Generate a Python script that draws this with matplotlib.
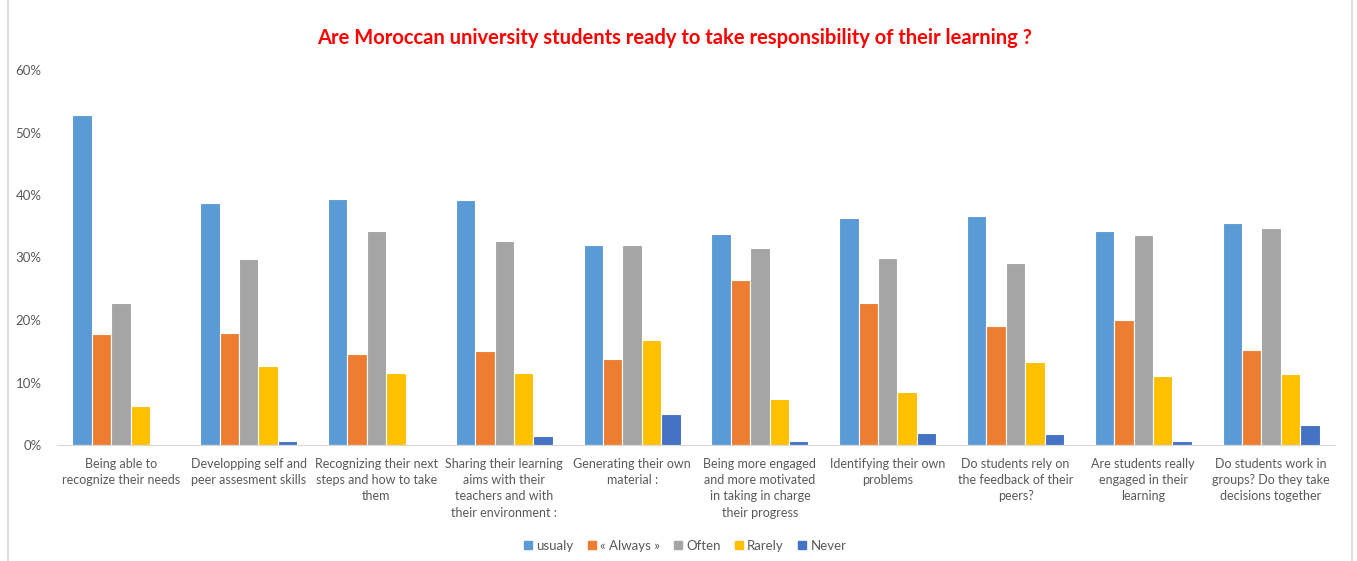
import numpy as np
import matplotlib.pyplot as plt
from matplotlib.lines import Line2D

plt.rcParams['font.family'] = ['Lato', 'DejaVu Sans']

categories = [
    "Being able to\nrecognize their needs",
    "Developping self and\npeer assesment skills",
    "Recognizing their next\nsteps and how to take\nthem",
    "Sharing their learning\naims with their\nteachers and with\ntheir environment :",
    "Generating their own\nmaterial :",
    "Being more engaged\nand more motivated\nin taking in charge\ntheir progress",
    "Identifying their own\nproblems",
    "Do students rely on\nthe feedback of their\npeers?",
    "Are students really\nengaged in their\nlearning",
    "Do students work in\ngroups? Do they take\ndecisions together",
]
series_names = ["usualy", "« Always »", "Often", "Rarely", "Never"]
usualy = [52.8, 38.8, 39.4, 39.2, 32.0, 33.8, 36.4, 36.6, 34.3, 35.5]
always = [17.8, 17.9, 14.5, 15.1, 13.8, 26.4, 22.8, 19.1, 20.0, 15.2]
often = [22.8, 29.8, 34.2, 32.6, 32.0, 31.6, 30.0, 29.2, 33.6, 34.7]
rarely = [6.3, 12.6, 11.6, 11.5, 16.8, 7.3, 8.5, 13.3, 11.1, 11.3]
never = [0.0, 0.7, 0.0, 1.4, 5.0, 0.7, 2.0, 1.7, 0.7, 3.2]
colors = ["#5B9BD5", "#ED7D31", "#A5A5A5", "#FFC000", "#4472C4"]

fig = plt.figure(figsize=(13.57, 5.61), dpi=100)
ax = fig.add_axes([57 / 1357, 1 - 445 / 561, 1278 / 1357, 375 / 561])

x = np.arange(len(categories))
pitch = 0.152
for i, (vals, c) in enumerate(zip([usualy, always, often, rarely, never], colors)):
    ax.bar(x + (i - 2) * pitch, vals, width=pitch, color=c, edgecolor="white",
           linewidth=0.8, label=series_names[i])

ax.set_xlim(-0.5, len(categories) - 0.5)
ax.set_ylim(0, 60)
ax.set_yticks(range(0, 61, 10))
ax.set_yticklabels([f"{v}%" for v in range(0, 61, 10)], color="#595959", fontsize=9.5)
ax.set_xticks(x)
ax.set_xticklabels(categories, color="#595959", fontsize=9, linespacing=1.45, va="top")
ax.tick_params(axis="both", length=0)
ax.tick_params(axis="x", pad=9)
ax.tick_params(axis="y", pad=11)
for s in ["top", "right", "left"]:
    ax.spines[s].set_visible(False)
ax.spines["bottom"].set_color("#D9D9D9")

fig.text(675 / 1357, 1 - 38 / 561,
         "Are Moroccan university students ready to take responsibility of their learning ?",
         color="#FF0000", fontsize=14.5, fontweight="bold", ha="center", va="center")

handles = [Line2D([0], [0], marker="s", linestyle="none", markersize=5.5,
                  markerfacecolor=c, markeredgecolor=c) for c in colors]
fig.legend(handles, series_names, loc="center", bbox_to_anchor=(684 / 1357, 1 - 546 / 561),
           ncol=5, frameon=False, fontsize=9.5, handletextpad=0.1, columnspacing=0.9,
           handlelength=1.0, labelcolor="#595959")

fig.add_artist(Line2D([8 / 1357, 8 / 1357], [0, 1], color="#D9D9D9", linewidth=1.2))
fig.add_artist(Line2D([1352 / 1357, 1352 / 1357], [0, 1], color="#D9D9D9", linewidth=1.2))

fig.savefig("out.png", dpi=100)
